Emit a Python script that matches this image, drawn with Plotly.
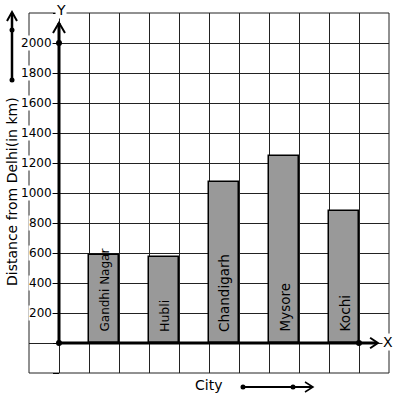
import plotly.graph_objects as go

cities = ["Gandhi Nagar", "Hubli", "Chandigarh", "Mysore", "Kochi"]
distances = [590, 572, 1072, 1248, 880]
bar_positions = [1.5, 3.5, 5.5, 7.5, 9.5]
y_ticks = [200, 400, 600, 800, 1000, 1200, 1400, 1600, 1800, 2000]
grid_y = [-200, 0] + y_ticks + [2200]

FONT = "DejaVu Sans"
label_font_sizes = [12, 12.5, 13.5, 13.5, 13.7]

def px_x(p):
    return (p - 29) / 360.0

def px_y(p):
    return (373 - p) / 360.0

fig = go.Figure()

fig.add_trace(go.Bar(
    x=bar_positions, y=distances, width=1,
    marker=dict(color="#999999", line=dict(color="black", width=1.5)),
    hoverinfo="skip", showlegend=False,
))

# axis dots
fig.add_trace(go.Scatter(
    x=[0, 0, 10], y=[0, 2000, 0], mode="markers",
    marker=dict(color="black", size=6), showlegend=False, hoverinfo="skip",
))

shapes = []
# border
shapes.append(dict(type="rect", xref="paper", yref="paper", x0=0, y0=0, x1=1, y1=1,
                   line=dict(color="#222", width=1), layer="below"))
# main y axis
shapes.append(dict(type="line", xref="x", yref="y", x0=0, y0=0, x1=0, y1=2133,
                   line=dict(color="black", width=3)))
shapes.append(dict(type="path", xref="x", yref="y",
                   path="M -0.2,2067 L 0,2135 L 0.2,2067",
                   line=dict(color="black", width=2)))
# main x axis
shapes.append(dict(type="line", xref="x", yref="y", x0=0, y0=0, x1=10.6, y1=0,
                   line=dict(color="black", width=3)))
shapes.append(dict(type="path", xref="x", yref="y",
                   path="M 10.37,35 L 10.63,0 L 10.37,-35",
                   line=dict(color="black", width=2)))

# left (title) arrow
lx = px_x(12)
shapes.append(dict(type="line", xref="paper", yref="paper", x0=lx, y0=px_y(80), x1=lx, y1=px_y(13),
                   line=dict(color="black", width=2.5)))
shapes.append(dict(type="path", xref="paper", yref="paper",
                   path=f"M {px_x(7)},{px_y(21)} L {lx},{px_y(12)} L {px_x(17)},{px_y(21)}",
                   line=dict(color="black", width=2)))
for yy in (30, 80):
    shapes.append(dict(type="circle", xref="paper", yref="paper",
                       x0=px_x(9.5), x1=px_x(14.5), y0=px_y(yy + 2.5), y1=px_y(yy - 2.5),
                       fillcolor="black", line=dict(color="black", width=0)))

# city arrow
cy = px_y(387)
shapes.append(dict(type="line", xref="paper", yref="paper", x0=px_x(243), y0=cy, x1=px_x(312), y1=cy,
                   line=dict(color="black", width=2)))
shapes.append(dict(type="path", xref="paper", yref="paper",
                   path=f"M {px_x(305)},{px_y(382)} L {px_x(313)},{cy} L {px_x(305)},{px_y(392)}",
                   line=dict(color="black", width=1.5)))
for xx in (243, 293):
    shapes.append(dict(type="circle", xref="paper", yref="paper",
                       x0=px_x(xx - 2.5), x1=px_x(xx + 2.5), y0=px_y(389.5), y1=px_y(384.5),
                       fillcolor="black", line=dict(color="black", width=0)))

annotations = []
for v in y_ticks:
    annotations.append(dict(x=0, y=v, xref="x", yref="y", text=str(v), showarrow=False,
                            xanchor="right", xshift=-6, bgcolor="white", borderpad=0,
                            font=dict(family=FONT, size=12, color="black")))
for c, xp, fs in zip(cities, bar_positions, label_font_sizes):
    annotations.append(dict(x=xp, y=0, xref="x", yref="y", text=c, showarrow=False,
                            textangle=-90, xanchor="center", yanchor="bottom", yshift=9,
                            font=dict(family=FONT, size=fs, color="black")))
annotations.append(dict(x=px_x(12), y=px_y(192), xref="paper", yref="paper",
                        text="Distance from Delhi(in km)", showarrow=False, textangle=-90,
                        xanchor="center", yanchor="middle",
                        font=dict(family=FONT, size=14, color="black")))
annotations.append(dict(x=px_x(208), y=px_y(385), xref="paper", yref="paper", text="City",
                        showarrow=False, xanchor="center", yanchor="middle",
                        font=dict(family=FONT, size=14, color="black")))
annotations.append(dict(x=px_x(61), y=px_y(10), xref="paper", yref="paper", text="Y",
                        showarrow=False, bgcolor="white", borderpad=0,
                        xanchor="center", yanchor="middle",
                        font=dict(family=FONT, size=14, color="black")))
annotations.append(dict(x=px_x(388), y=px_y(342), xref="paper", yref="paper", text="X",
                        showarrow=False, bgcolor="white", borderpad=0,
                        xanchor="center", yanchor="middle",
                        font=dict(family=FONT, size=14, color="black")))

fig.update_layout(
    width=397, height=399,
    margin=dict(l=29, r=8, t=13, b=26),
    paper_bgcolor="white", plot_bgcolor="white",
    font=dict(family=FONT, size=12, color="black"),
    xaxis=dict(range=[-1, 11], tickmode="linear", tick0=0, dtick=1, showgrid=True,
               gridcolor="#222", gridwidth=1, zeroline=False, showticklabels=False,
               showline=False, ticks="", automargin=False),
    yaxis=dict(range=[-200, 2200], tickmode="array", tickvals=grid_y, showgrid=True,
               gridcolor="#222", gridwidth=1, zeroline=False, showticklabels=False,
               anchor="free", position=30 / 360, ticks="outside", ticklen=6,
               tickcolor="black", tickwidth=1, showline=False, automargin=False),
    shapes=shapes,
    annotations=annotations,
    bargap=0,
)

fig.write_html("out.html", config={"displayModeBar": False},
               post_script="document.body.style.margin='0px';document.body.style.overflow='hidden';")
